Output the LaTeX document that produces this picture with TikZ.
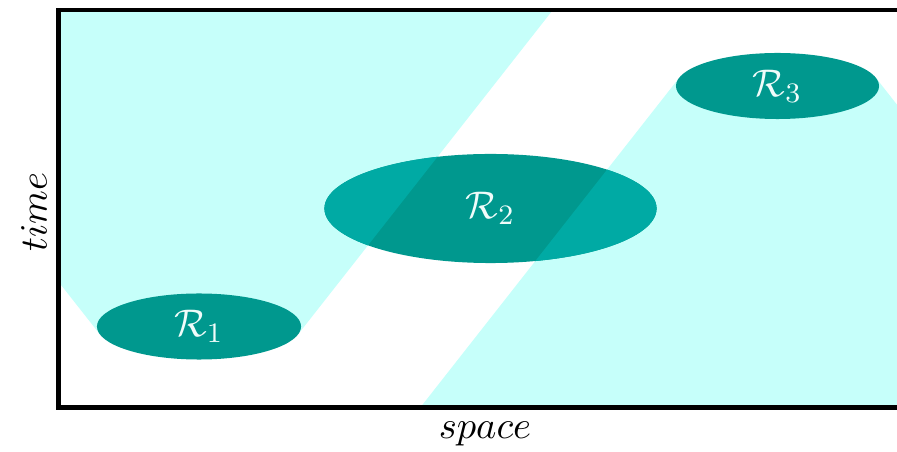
\documentclass[tikz,border=0pt]{standalone}
\usepackage{amsmath,amssymb}
\usepackage{tikz}
\usetikzlibrary{shapes.geometric}

\definecolor{coneCyan}{RGB}{198,255,250}
\definecolor{blobTeal}{RGB}{0,152,142}
\definecolor{blobLight}{RGB}{0,170,164}
\definecolor{lblWhite}{RGB}{240,252,250}

\begin{document}
\begin{tikzpicture}[
  x=0.01cm,y=-0.01cm,
  font=\fontsize{11.3}{13.6}\selectfont,
  cone/.style={fill=coneCyan,draw=none},
  blob/.style={ellipse,fill=blobTeal,draw=none,inner sep=0pt},
  lbl/.style={text=lblWhite,inner sep=0pt},
  frameLine/.style={line width=1.3pt,black}
]
\useasboundingbox (0,0) rectangle (897,452);
% light cones of the regions
\fill[cone] (59,10) -- (59,282.4) -- (100.1,334.6) -- (297.9,334.6) -- (552.8,10) -- cycle;
\fill[cone] (420.7,407) -- (679.1,77.9) -- (875.9,77.9) -- (897,104.7) -- (897,407) -- cycle;
% regions
\node[blob,minimum width=2.04cm,minimum height=0.66cm] (r1) at (199,326.5) {};
\node[blob,minimum width=3.32cm,minimum height=1.09cm] (r2) at (490.5,208.5) {};
\node[blob,minimum width=2.03cm,minimum height=0.66cm] (r3) at (777.5,86) {};
\begin{scope}
  \clip (490.5,208.5) ellipse [x radius=1.66cm,y radius=0.545cm];
  \fill[blobLight] (59,10) -- (59,282.4) -- (100.1,334.6) -- (297.9,334.6) -- (552.8,10) -- cycle;
  \fill[blobLight] (420.7,407) -- (679.1,77.9) -- (875.9,77.9) -- (897,104.7) -- (897,407) -- cycle;
\end{scope}
\node[lbl] (l1) at (r1) {$\mathcal{R}_1$};
\node[lbl] (l2) at (r2) {$\mathcal{R}_2$};
\node[lbl] (l3) at (r3) {$\mathcal{R}_3$};
% axes frame
\draw[frameLine] (897,10) -- (58.5,10) -- (58.5,407.5) -- (897,407.5);
\node[rotate=90] (tlabel) at (34,212) {$time$};
\node (slabel) at (485,434) {$space$};
\end{tikzpicture}
\end{document}
